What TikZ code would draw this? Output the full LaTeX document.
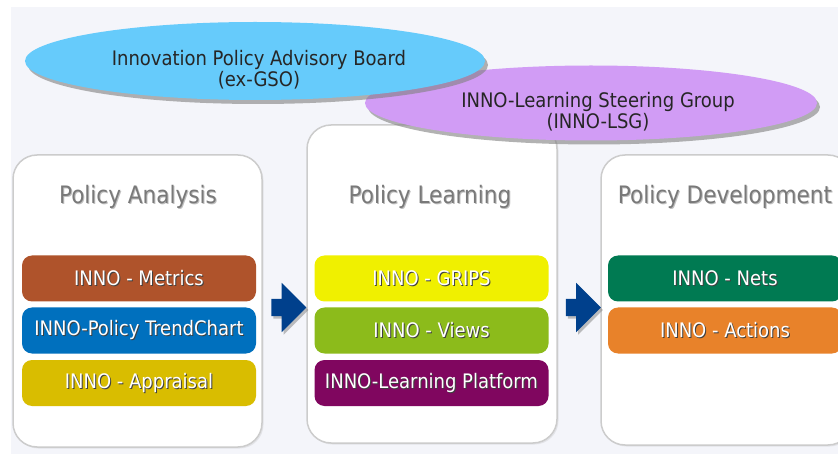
\documentclass[tikz,border=0pt]{standalone}
\usepackage{fontspec}
\setmainfont{DejaVu Sans Condensed}
\usetikzlibrary{shapes.geometric,shapes.arrows,shadows,positioning}

\definecolor{bgpage}{HTML}{F4F5FA}
\definecolor{boardblue}{HTML}{66CBFB}
\definecolor{lsgpurple}{HTML}{D19CF5}
\definecolor{arrowblue}{HTML}{00408C}
\definecolor{metricsc}{HTML}{AF532B}
\definecolor{trendc}{HTML}{0070BE}
\definecolor{appraisalc}{HTML}{D9BD00}
\definecolor{gripsc}{HTML}{F0F000}
\definecolor{viewsc}{HTML}{8CBB1B}
\definecolor{platformc}{HTML}{80065F}
\definecolor{netsc}{HTML}{007A52}
\definecolor{actionsc}{HTML}{E8822A}

% text with a small dark shadow
\newcommand{\shtxt}[2][black!75]{\leavevmode\rlap{\kern1pt\raisebox{-1pt}{\textcolor{#1}{#2}}}#2}
% two centred lines, set a little low in the ellipse
\newcommand{\boardtxt}[2]{\raisebox{-15.5pt}[0pt][0pt]{\begin{tabular}{@{}c@{}}#1\\#2\end{tabular}}}

\tikzset{
  panel/.style={draw=gray!40, line width=1.5pt, fill=white, rounded corners=24pt,
    drop shadow={shadow xshift=1.5pt, shadow yshift=-1.5pt, opacity=.15}},
  paneltitle/.style={text=gray!95!black, font=\fontsize{24}{28}\selectfont},
  tool/.style={rounded corners=10pt, minimum width=234pt, minimum height=46pt,
    inner sep=0pt, text=white, font=\fontsize{20}{24}\selectfont},
  board/.style={ellipse, inner sep=0pt, text=black!85,
    font=\fontsize{20}{21}\selectfont,
    drop shadow={shadow xshift=3pt, shadow yshift=-4pt, opacity=.6}},
  flow/.style={single arrow, fill=arrowblue, minimum height=35pt,
    single arrow head extend=16pt, inner sep=0pt,
    drop shadow={shadow xshift=2pt, shadow yshift=-2.5pt, opacity=.5}}
}

\begin{document}
\begin{tikzpicture}[x=1pt, y=-1pt]
    \useasboundingbox (0,0) rectangle (838,454);
    \fill[bgpage] (11,7) rectangle (838,454);

    % the three panels
    \node[panel, minimum width=249pt, minimum height=292pt] (analysis) at (137.5,301) {};
    \node[panel, minimum width=250pt, minimum height=318pt] (learning) at (432,284) {};
    \node[panel, minimum width=251pt, minimum height=290pt] (development) at (726.5,300) {};

    \node[paneltitle] (analysisT) at (138,197) {\shtxt[black!25]{Policy Analysis}};
    \node[paneltitle] (learningT) at (430,197) {\shtxt[black!25]{Policy Learning}};
    \node[paneltitle] (developmentT) at (725,197) {\shtxt[black!25]{Policy Development}};

    % tools
    \node[tool, fill=metricsc] (metrics) at (139,278.5) {\shtxt{INNO - Metrics}};
    \node[tool, fill=trendc] (trend) at (139,330.5) {\shtxt{INNO-Policy TrendChart}};
    \node[tool, fill=appraisalc] (appraisal) at (139,383) {\shtxt{INNO - Appraisal}};

    \node[tool, fill=gripsc] (grips) at (431.5,278.5) {\shtxt{INNO - GRIPS}};
    \node[tool, fill=viewsc] (views) at (431.5,330.5) {\shtxt{INNO - Views}};
    \node[tool, fill=platformc] (platform) at (431.5,383) {\shtxt{INNO-Learning Platform}};

    \node[tool, fill=netsc] (nets) at (725,278.5) {\shtxt{INNO - Nets}};
    \node[tool, fill=actionsc] (actions) at (725,330.5) {\shtxt{INNO - Actions}};

    % arrows between the panels
    \node[flow] (toLearning) at (284.5,307.5) {\rule{0pt}{17pt}};
    \node[flow] (toDevelopment) at (579,307.5) {\rule{0pt}{17pt}};

    % boards
    \node[board, fill=lsgpurple, minimum width=452pt, minimum height=75pt] (lsg) at (591,103)
        {\hspace*{14pt}\boardtxt{INNO-Learning Steering Group}{(INNO-LSG)}};
    \node[board, fill=boardblue, minimum width=460pt, minimum height=78pt] (gso) at (255,61)
        {\hspace*{8pt}\boardtxt{Innovation Policy Advisory Board}{(ex-GSO)}};
\end{tikzpicture}
\end{document}
